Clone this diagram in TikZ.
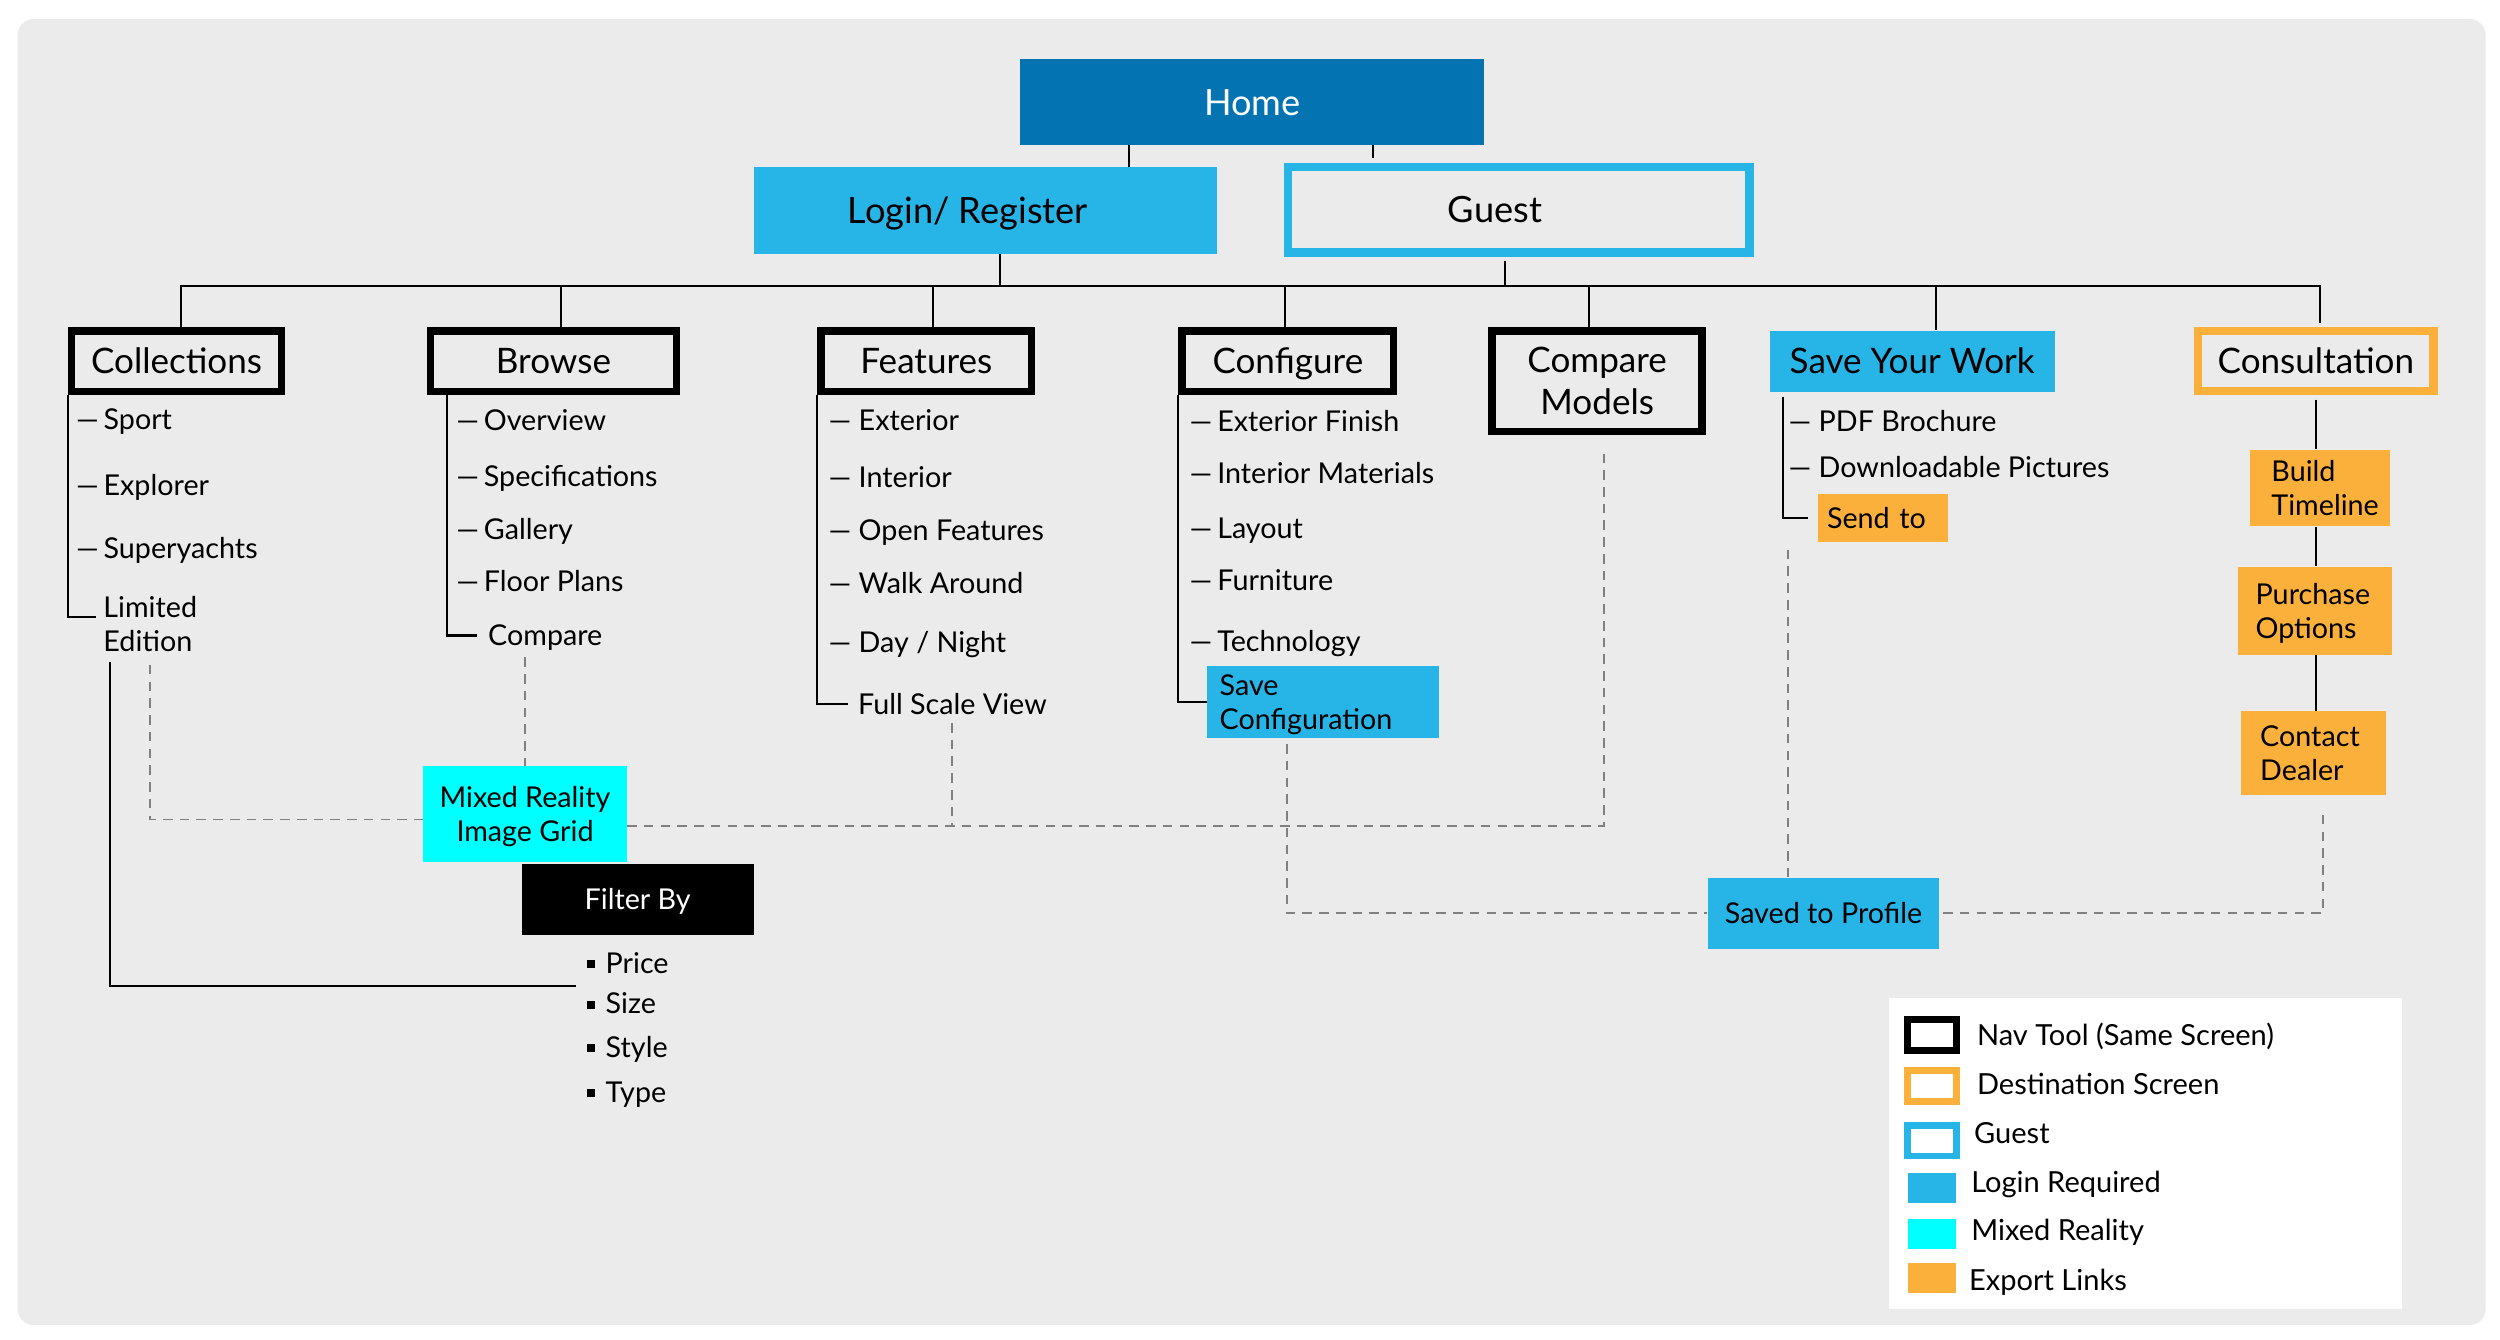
\documentclass[tikz,border=0pt]{standalone}
\usepackage{fontspec}
\setmainfont{Lato}

\definecolor{homeblue}{HTML}{0373B1}
\definecolor{loginblue}{HTML}{27B5E7}
\definecolor{mixedcyan}{HTML}{00FFFF}
\definecolor{exportorange}{HTML}{FBB03B}
\definecolor{paper}{HTML}{EBEBEB}
\definecolor{linkgray}{HTML}{808080}

\newcommand{\sqbullet}{\rule[3.3pt]{5pt}{5pt}\hspace{6.7pt}}

\tikzset{
  boxsize/.style 2 args={minimum width=#1pt, minimum height=#2pt},
  bigtext/.style={font=\fontsize{22.7}{27.2}\selectfont, text height=16.3pt, text depth=0pt},
  navtext/.style={font=\fontsize{22}{26.2}\selectfont, text height=15.8pt, text depth=0pt},
  itemtext/.style={font=\fontsize{18}{21.3}\selectfont, text height=12.9pt, text depth=0pt},
  twolines/.style={text height=34.2pt, text depth=0pt},
  homebox/.style={fill=homeblue, text=white, inner sep=0pt, bigtext},
  loginbox/.style={fill=loginblue, inner sep=0pt},
  guestbox/.style={draw=loginblue, line width=5.3pt, inner sep=0pt},
  navbox/.style={draw=black, line width=4.8pt, inner sep=0pt, navtext},
  destbox/.style={draw=exportorange, line width=5.3pt, inner sep=0pt, navtext},
  exportbox/.style={fill=exportorange, inner sep=0pt, itemtext},
  mixedbox/.style={fill=mixedcyan, inner sep=0pt, itemtext, align=center},
  filterbox/.style={fill=black, text=white, inner sep=0pt, itemtext},
  leftbox/.style 2 args={inner xsep=#1pt, text width=#2pt, align=left},
  item/.style={anchor=west, inner sep=0pt, itemtext},
  tree/.style={draw=black, line width=1.3pt},
  link/.style={draw=linkgray, line width=1.2pt, dash pattern=on 6pt off 4.5pt},
  swatch/.style={boxsize={30.5}{19.3}, inner sep=0pt, fill=white, line width=4.3pt},
  legendtext/.style={anchor=west, inner sep=0pt, font=\fontsize{18.2}{21}\selectfont, text height=13pt, text depth=0pt}
}

\begin{document}
\begin{tikzpicture}[x=1pt,y=-1pt]

	\useasboundingbox (0,0) rectangle (1568,840);
	\fill[white] (0,0) rectangle (1568,840);
	\fill[paper, rounded corners=10pt] (11,12) rectangle (1559,831);

	% Top
	\node[homebox, boxsize={291}{54}] (home) at (785.5,64) {Home};
	\node[loginbox, boxsize={290}{54}] (login) at (618,132) {};
	\node[bigtext] (logintext) at (607,132) {Login/ Register};
	\node[guestbox, boxsize={289.7}{53.7}] (guest) at (952.5,131.5) {};
	\node[bigtext] (guesttext) at (937.6,131.5) {Guest};

	% Nav tools
	\node[navbox, boxsize={131.6}{38.1}] (collections) at (110.75,226.5) {Collections};
	\node[navbox, boxsize={154.3}{38.1}] (browse) at (347.1,226.5) {Browse};
	\node[navbox, boxsize={131.8}{38.1}] (features) at (581,226.5) {Features};
	\node[navbox, boxsize={132.6}{38.1}] (configure) at (807.75,226.5) {Configure};
	\node[navbox, boxsize={131.6}{63.1}, align=center, text height=42pt] (cmpmodels) at (1001.75,239) {Compare\\Models};
	\node[loginbox, navtext, boxsize={178.7}{38.4}] (syw) at (1199.3,226.5) {Save Your Work};
	\node[destbox, boxsize={147.7}{37.7}] (consult) at (1452.5,226.5) {Consultation};

	% Collections
	\node[item] (sport) at (47.5,263) {—\,Sport};
	\node[item] (explorer) at (47.5,304.5) {—\,Explorer};
	\node[item] (superyachts) at (47.5,343.7) {—\,Superyachts};
	\node[item, anchor=north west, align=left, twolines] (limited) at (64.7,374.4) {Limited\\Edition};

	% Browse
	\node[item] (overview) at (286,263.5) {—\,Overview};
	\node[item] (specs) at (286,298.9) {—\,Specifications};
	\node[item] (gallery) at (286,332) {—\,Gallery};
	\node[item] (floorplans) at (286,364.3) {—\,Floor Plans};
	\node[item] (compare) at (306,398.6) {Compare};

	% Features
	\node[item] (exterior) at (519.5,263.5) {— Exterior};
	\node[item] (interior) at (519.5,299.2) {— Interior};
	\node[item] (openfeat) at (519.5,332.5) {— Open Features};
	\node[item] (walk) at (519.5,365.7) {— Walk Around};
	\node[item] (daynight) at (519.5,403) {— Day / Night};
	\node[item] (fullscale) at (538,441.8) {Full Scale View};

	% Configure
	\node[item] (extfinish) at (746,264.3) {—\,Exterior Finish};
	\node[item] (intmat) at (746,296.8) {—\,Interior Materials};
	\node[item] (layout) at (746,331.6) {—\,Layout};
	\node[item] (furniture) at (746,364) {—\,Furniture};
	\node[item] (technology) at (746,402.4) {—\,Technology};
	\node[loginbox, itemtext, boxsize={145.6}{44.9}, leftbox={8}{129.6}, text depth=21.3pt] (savecfg) at (829.8,440.45) {Save\\Configuration};

	% Save your work
	\node[item] (pdf) at (1121.6,264.4) {— PDF Brochure};
	\node[item] (pictures) at (1121.6,293) {— Downloadable Pictures};
	\node[exportbox, boxsize={81.1}{29.9}, leftbox={5.5}{70.1}] (sendto) at (1180.95,324.85) {Send to};

	% Consultation
	\node[exportbox, boxsize={88.3}{48.2}, leftbox={13.7}{60.9}, text depth=21.3pt] (build) at (1455.1,306.1) {Build\\Timeline};
	\node[exportbox, boxsize={96.6}{55.5}, leftbox={11.3}{74}, text depth=21.3pt] (purchase) at (1451.7,383.15) {Purchase\\Options};
	\node[exportbox, boxsize={90.5}{52.9}, leftbox={11.8}{66.9}, text depth=21.3pt] (contact) at (1451.05,472.45) {Contact\\Dealer};

	% Bottom
	\node[mixedbox, boxsize={127.6}{60.4}, twolines] (mixed) at (329.3,510.6) {Mixed Reality\\Image Grid};
	\node[filterbox, boxsize={145.3}{44.6}] (filterby) at (399.95,563.9) {Filter By};
	\node[item] (price) at (368,603.9) {\sqbullet Price};
	\node[item] (size) at (368,629.4) {\sqbullet Size};
	\node[item] (style) at (368,656.6) {\sqbullet Style};
	\node[item] (type) at (368,684.9) {\sqbullet Type};
	\node[loginbox, itemtext, boxsize={145.2}{44.4}] (saved) at (1143.7,572.7) {Saved to Profile};

	%Legend
	\node[fill=white, boxsize={321.7}{195.1}] (legend) at (1345.45,723.25) {};
	\node[swatch, draw=black] (navsw) at (1211.6,649) {};
	\node[swatch, draw=exportorange] (destsw) at (1211.6,681) {};
	\node[swatch, draw=loginblue] (guestsw) at (1211.6,715.4) {};
	\node[swatch, boxsize={30.2}{18.5}, fill=loginblue] (loginsw) at (1211.7,745.25) {};
	\node[swatch, boxsize={30.2}{18.5}, fill=mixedcyan] (mixedsw) at (1211.7,773.9) {};
	\node[swatch, boxsize={30.2}{18.5}, fill=exportorange] (exportsw) at (1211.7,801.6) {};
	\node[legendtext] (navlbl) at (1239.8,649.3) {Nav Tool (Same Screen)};
	\node[legendtext] (destlbl) at (1239.8,680) {Destination Screen};
	\node[legendtext] (guestlbl) at (1238,711) {Guest};
	\node[legendtext] (loginlbl) at (1236.2,741.3) {Login Required};
	\node[legendtext] (mixedlbl) at (1236.2,771.6) {Mixed Reality};
	\node[legendtext] (exportlbl) at (1234.8,802.6) {Export Links};

	%link
	\coordinate (bus) at (0,179.5);
	\draw[tree] ([xshift=-77.5pt]home.south) -- ([xshift=-77.5pt]home.south |- login.north);
	\draw[tree, shorten >=2.65pt] ([xshift=75.5pt]home.south) -- ([xshift=75.5pt]home.south |- guest.north);
	\draw[tree] ([xshift=9pt]login.south) -- ([xshift=9pt]login.south |- bus);
	\draw[tree, shorten <=2.65pt] ([xshift=-8.5pt]guest.south) -- ([xshift=-8.5pt]guest.south |- bus);
	\draw[tree, shorten >=2.65pt] ([xshift=2.75pt]collections.north) |- ([xshift=2.5pt]consult.north |- bus) -- ([xshift=2.5pt]consult.north);
	\draw[tree] ([xshift=5pt]browse.north |- bus) -- ([xshift=5pt]browse.north);
	\draw[tree] ([xshift=4pt]features.north |- bus) -- ([xshift=4pt]features.north);
	\draw[tree] ([xshift=-2pt]configure.north |- bus) -- ([xshift=-2pt]configure.north);
	\draw[tree] ([xshift=-5pt]cmpmodels.north |- bus) -- ([xshift=-5pt]cmpmodels.north);
	\draw[tree] ([xshift=14.7pt]syw.north |- bus) -- ([xshift=14.7pt]syw.north);

	\draw[tree] (collections.south west) |- ([xshift=-4.4pt,yshift=5pt]limited.west);
	\draw[tree] ([xshift=13pt]browse.south west) |- ([xshift=-6.7pt]compare.west);
	\draw[tree] (features.south west) |- ([xshift=-6.2pt]fullscale.west);
	\draw[tree] (configure.south west) |- (savecfg.west);
	\draw[tree] ([xshift=8.3pt,yshift=-3pt]syw.south west) |- ([xshift=-6.4pt]sendto.west);
	\draw[tree, shorten <=2.65pt] (consult.south) -- (consult.south |- build.north);
	\draw[tree] (consult.south |- build.south) -- (consult.south |- purchase.north);
	\draw[tree] (consult.south |- purchase.south) -- (consult.south |- contact.north);
	\draw[tree, shorten <=6pt] ([xshift=4.3pt]limited.south west) |- ([xshift=-6.6pt,yshift=-14.5pt]price.west);

	\coordinate (mrjoin) at ([yshift=-7.2pt]mixed.east);
	\draw[link, shorten <=8pt] (limited.south) |- ([yshift=-3.4pt]mixed.west);
	\draw[link, shorten <=7pt] (mixed.north |- compare.south) -- (mixed.north);
	\draw[link, shorten >=7.5pt] (mrjoin) -| ([xshift=4.2pt]cmpmodels.south);
	\draw[link, shorten <=5pt] (fullscale.south) -- (fullscale.south |- mrjoin);
	\draw[link, shorten <=3.6pt] ([xshift=-22.4pt]savecfg.south) |- (saved.west);
	\draw[link, shorten >=2pt] ([xshift=-22.1pt]saved.north) -- ([xshift=-22.1pt]saved.north |- sendto.south);
	\draw[link, shorten <=12pt] ([xshift=6pt]contact.south) |- (saved.east);

\end{tikzpicture}
\end{document}
